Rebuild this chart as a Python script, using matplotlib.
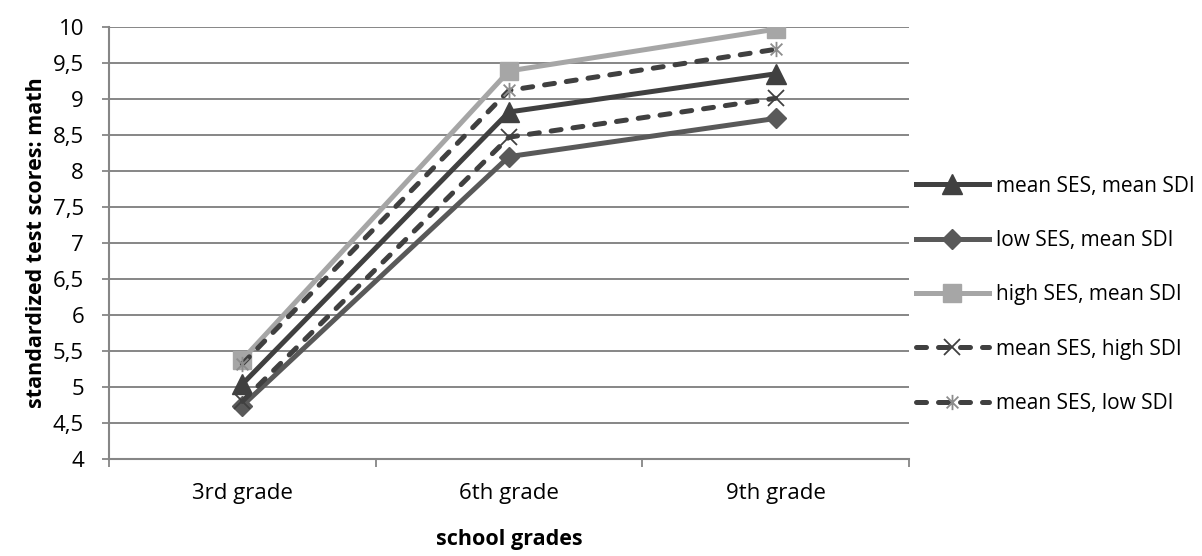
import matplotlib
matplotlib.use("Agg")
import matplotlib.pyplot as plt
from matplotlib.path import Path

plt.rcParams['font.family'] = ['Open Sans', 'DejaVu Sans']

grades = ['3rd grade', '6th grade', '9th grade']
mean_ses_mean_sdi = [5.04, 8.82, 9.35]
low_ses_mean_sdi = [4.74, 8.20, 8.73]
high_ses_mean_sdi = [5.38, 9.39, 9.97]
mean_ses_high_sdi = [4.80, 8.47, 9.01]
mean_ses_low_sdi = [5.32, 9.12, 9.69]
y_ticks = [4, 4.5, 5, 5.5, 6, 6.5, 7, 7.5, 8, 8.5, 9, 9.5, 10]

# Excel-style star: an x with a vertical bar through it
star = Path([(-1, -1), (1, 1), (-1, 1), (1, -1), (0, -1.3), (0, 1.3)],
            [Path.MOVETO, Path.LINETO, Path.MOVETO, Path.LINETO, Path.MOVETO, Path.LINETO])

fig = plt.figure(figsize=(12.02, 5.56), dpi=100)
ax = fig.add_axes([0.0907, 0.1745, 0.6655, 0.7769])

x = list(range(len(grades)))
lw = 3.6
dash = (2.0, 2.4)

ax.plot(x, mean_ses_mean_sdi, color='#404040', lw=lw, marker='^', ms=14,
        mec='#404040', mfc='#404040', label='mean SES, mean SDI', zorder=3)
ax.plot(x, low_ses_mean_sdi, color='#595959', lw=lw, marker='D', ms=10,
        mec='#595959', mfc='#595959', label='low SES, mean SDI', zorder=3)
ax.plot(x, high_ses_mean_sdi, color='#a6a6a6', lw=lw, marker='s', ms=12.5,
        mec='#a6a6a6', mfc='#a6a6a6', label='high SES, mean SDI', zorder=3)
l4, = ax.plot(x, mean_ses_high_sdi, color='#404040', lw=lw, marker='x', ms=11,
              mew=1.3, mec='#404040', label='mean SES, high SDI', zorder=3)
l4.set_dashes(dash)
l4.set_dash_capstyle('round')
l5, = ax.plot(x, mean_ses_low_sdi, color='#404040', lw=lw, marker=star, ms=11,
              mew=1.3, mec='#8c8c8c', label='mean SES, low SDI', zorder=3)
l5.set_dashes(dash)
l5.set_dash_capstyle('round')

ax.set_xlim(-0.5, 2.5)
ax.set_ylim(4, 10)
ax.set_yticks(y_ticks)
ax.set_yticklabels([f'{v:g}'.replace('.', ',') for v in y_ticks])
ax.set_xticks([-0.5, 0.5, 1.5, 2.5])
ax.set_xticklabels([])
ax.set_xticks(x, minor=True)
ax.set_xticklabels(grades, minor=True)
ax.tick_params(axis='x', which='minor', length=0, pad=17, labelsize=16)
ax.tick_params(axis='x', which='major', length=6, width=1.3, color='#868686')
ax.tick_params(axis='y', length=5, width=1.3, color='#868686', labelsize=16, pad=13)

ax.grid(axis='y', color='#868686', lw=1.4, zorder=0)
for s in ['top', 'right']:
    ax.spines[s].set_visible(False)
for s in ['left', 'bottom']:
    ax.spines[s].set_color('#868686')
    ax.spines[s].set_linewidth(1.5)

ax.set_xlabel('school grades', fontsize=15.5, fontweight='bold', labelpad=18)
ax.set_ylabel('standardized test scores: math', fontsize=15.5, fontweight='bold', labelpad=4)

fig.legend(loc='upper left', bbox_to_anchor=(0.755, 0.699), frameon=False,
           fontsize=15, handlelength=3.5, handletextpad=0.34, labelspacing=1.6,
           borderaxespad=0)

fig.savefig('out.png', dpi=100)
